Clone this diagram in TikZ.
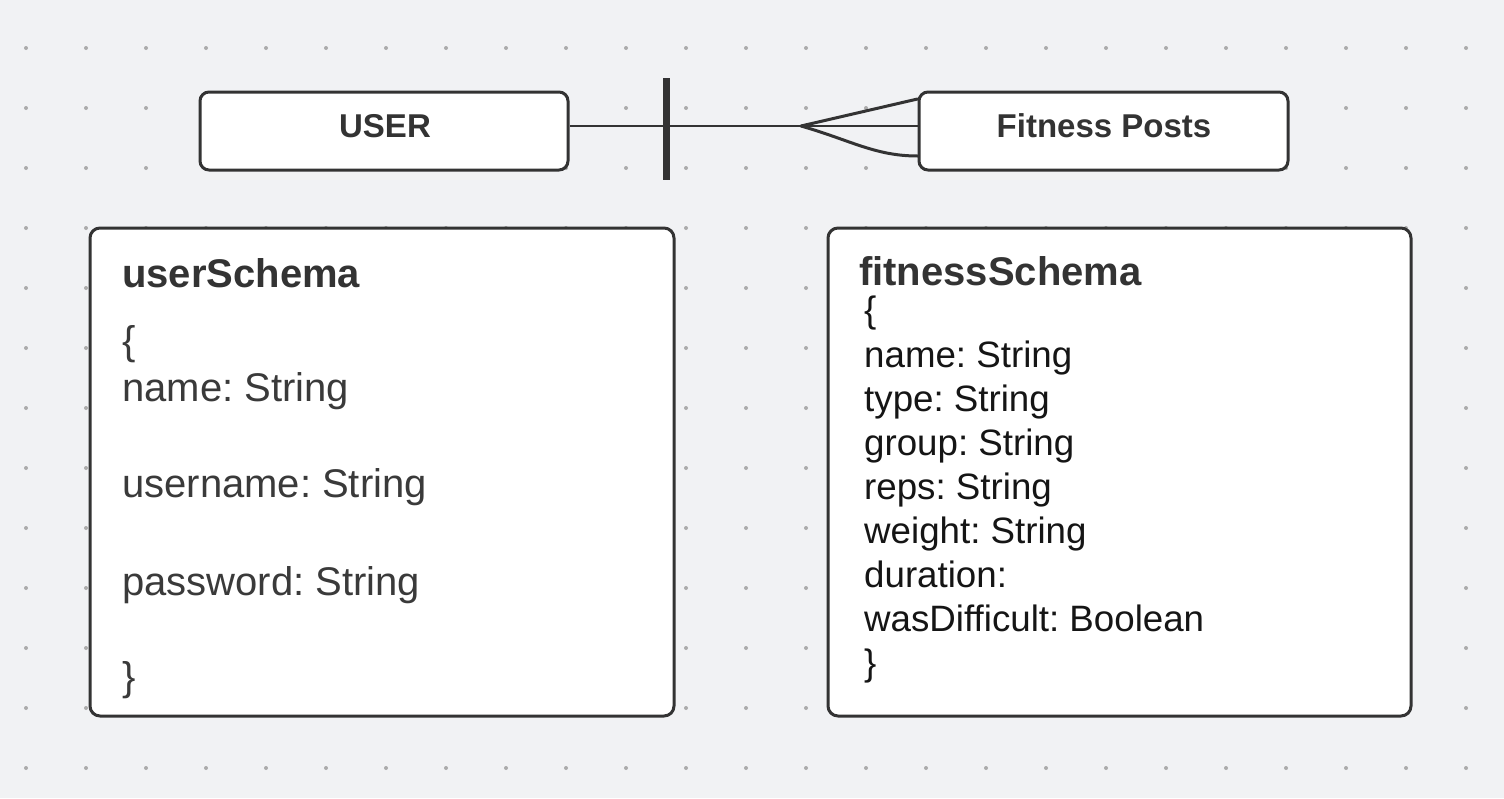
\documentclass[tikz,border=0pt]{standalone}
\usepackage{fontspec}
\setmainfont{Liberation Sans}
\frenchspacing
\definecolor{bg}{HTML}{F1F2F4}
\definecolor{dotc}{HTML}{ABABAB}
\definecolor{ink}{HTML}{333333}
\definecolor{bodyA}{HTML}{3A3A3A}
\definecolor{bodyB}{HTML}{151515}
\tikzset{
  entity/.style={draw=ink, line width=3pt, fill=white, rounded corners=9pt, inner sep=0pt},
  schemabox/.style={draw=ink, line width=3pt, fill=white, rounded corners=10pt, inner sep=0pt},
  enttext/.style={anchor=base, inner sep=0pt, text=ink, font=\fontsize{33}{40}\selectfont\bfseries\frenchspacing},
  titletext/.style={anchor=base west, inner sep=0pt, text=ink, font=\fontsize{40}{48}\selectfont\bfseries\frenchspacing},
  utext/.style={anchor=base west, inner sep=0pt, text=bodyA, font=\fontsize{40}{48}\selectfont\frenchspacing},
  ftext/.style={anchor=base west, inner sep=0pt, text=bodyB, font=\fontsize{36.7}{44}\selectfont\frenchspacing},
  rel/.style={draw=ink, line width=2pt},
  crow/.style={draw=ink, line width=3pt, line cap=round},
}
\begin{document}
\begin{tikzpicture}[x=1pt,y=-1pt]
\useasboundingbox (0,0) rectangle (1504,798);
\fill[bg] (0,0) rectangle (1504,798);
\foreach \i in {0,...,24}{
  \foreach \j in {0,...,12}{
    \fill[dotc] ({26+60*\i},{48+60*\j}) circle (2pt);
  }
}
% entity boxes
\node[entity, minimum width=368pt, minimum height=78pt] (user) at (384,131) {};
\node[entity, minimum width=369pt, minimum height=78pt] (fit) at (1103.5,131) {};
\node[enttext] (userlbl) at (385,137) {USER};
\node[enttext] (fitlbl) at (1104,137) {Fitness Posts};
% relationship
\coordinate (rel) at (666,126);
\coordinate (apex) at (801,126);
\draw[rel] (user.east |- rel) -- (fit.west |- rel);
\draw[draw=ink, line width=7pt] ([yshift=48pt]rel) -- ([yshift=-54pt]rel);
\draw[crow] (apex) -- ([yshift=27pt]fit.west |- apex);
\draw[crow] (apex) .. controls (850,140) and (875,156) .. (fit.west |- 0,156);
% schema boxes
\node[schemabox, minimum width=584pt, minimum height=488pt] (us) at (382,472) {};
\node[schemabox, minimum width=583pt, minimum height=488pt] (fs) at (1119.5,472) {};
\node[titletext] (ust) at (122,287) {userSchema};
\node[utext] (u0) at (122,354) {\{};
\node[utext] (u1) at (122,401) {name: String};
\node[utext] (u2) at (122,497) {username: String};
\node[utext] (u3) at (122,595) {password: String};
\node[utext] (u4) at (122,690) {\}};
\node[titletext] (fst) at (859,285) {fitnessSchema};
\node[ftext] (f0) at (864,322) {\{};
\node[ftext] (f1) at (864,367) {name: String};
\node[ftext] (f2) at (864,411) {type: String};
\node[ftext] (f3) at (864,455) {group: String};
\node[ftext] (f4) at (864,499) {reps: String};
\node[ftext] (f5) at (864,543) {weight: String};
\node[ftext] (f6) at (864,587) {duration:};
\node[ftext] (f7) at (864,631) {wasDifficult: Boolean};
\node[ftext] (f8) at (864,675) {\}};
\end{tikzpicture}
\end{document}
